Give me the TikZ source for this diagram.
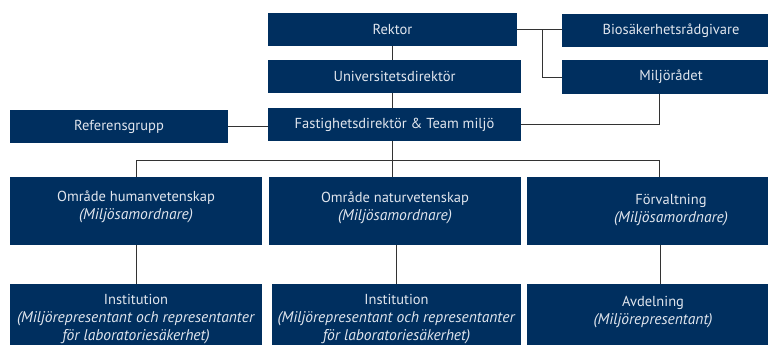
\documentclass[tikz,border=0pt]{standalone}
\usepackage{fontspec}
\setmainfont{PT Sans}[ItalicFeatures={Scale=1.07}]

\definecolor{subla}{HTML}{002F5F}
\definecolor{rutext}{HTML}{E1E6EE}
\definecolor{linjegra}{HTML}{333333}

\tikzset{
  ruta/.style={fill=subla, text=rutext, inner sep=0pt, minimum height=33pt, align=center,
               font=\fontsize{14.5}{18}\selectfont},
  rutatext/.style={text=rutext, inner sep=0pt, align=center, font=\fontsize{14.5}{18}\selectfont},
  linje/.style={draw=linjegra, line width=1pt}
}

\def\enradsrutor{rektor/392.5/29.5/249/{Rektor},
  unidir/394.5/76.5/253/{Universitetsdirektör},
  fast/394.5/124.5/253/{Fastighetsdirektör \& Team miljö},
  bio/671/30.5/218/{Biosäkerhetsrådgivare},
  miljo/671/77/218/{Miljörådet},
  ref/119/126.5/218/{Referensgrupp}}
\def\tvaradsrutor{hum/136/211/252/4/{Område humanvetenskap\\\textit{(Miljösamordnare)}},
  nat/395/211/252/3/{Område naturvetenskap\\\textit{(Miljösamordnare)}},
  forv/671/211/288/1/{Förvaltning\\\textit{(Miljösamordnare)}},
  ins1/136/318/252/-1.5/{Institution\\\textit{(Miljörepresentant och representanter}\\\textit{för laboratoriesäkerhet)}},
  ins2/396.5/318/249/-1.5/{Institution\\\textit{(Miljörepresentant och representanter}\\\textit{för laboratoriesäkerhet)}},
  avd/653/318/252/6/{Avdelning\\\textit{(Miljörepresentant)}}}

\begin{document}
\begin{tikzpicture}[x=1pt,y=-1pt]
\useasboundingbox (0,0) rectangle (768,345);
\clip (0,0) rectangle (768,345);

% Rutor
\foreach \id/\xk/\yk/\bredd/\rad in \enradsrutor {
  \node[ruta, minimum width=\bredd pt] (\id) at (\xk,\yk) {\rad};
}
\foreach \id/\xk/\yk/\bredd/\lyft/\rad in \tvaradsrutor {
  \node[ruta, minimum width=\bredd pt, minimum height=68pt,
        label={[rutatext, yshift=\lyft pt]center:{\rad}}] (\id) at (\xk,\yk) {};
}

% Linjer uppifrån
\draw[linje] (rektor.south) -- (rektor.south |- unidir.north);
\draw[linje] (unidir.south -| rektor.south) -- (rektor.south |- fast.north);
\draw[linje] (fast.south -| rektor.south) -- (rektor.south |- nat.north);
\draw[linje] (rektor.east) -- (rektor.east -| bio.west);
\coordinate (gren) at ([xshift=25pt]rektor.east);
\draw[linje] (gren) |- (miljo.west);
\draw[linje] ([xshift=-12pt]miljo.south) |- (fast.east);
\draw[linje] (ref.east) -- (ref.east -| fast.west);

% Tvärlinje till områdena
\coordinate (forvtopp) at ([xshift=-12pt]forv.north);
\coordinate (tvar) at (forvtopp |- 0,160);
\draw[linje] (hum.north) |- (tvar) -- (forvtopp);

% Nedåt
\draw[linje] (hum.south) -- (ins1.north);
\draw[linje] (ins2.north) -- (ins2.north |- nat.south);
\coordinate (forvbotten) at ([xshift=-11pt]forv.south);
\draw[linje] (forvbotten) -- (forvbotten |- avd.north);

\end{tikzpicture}
\end{document}
